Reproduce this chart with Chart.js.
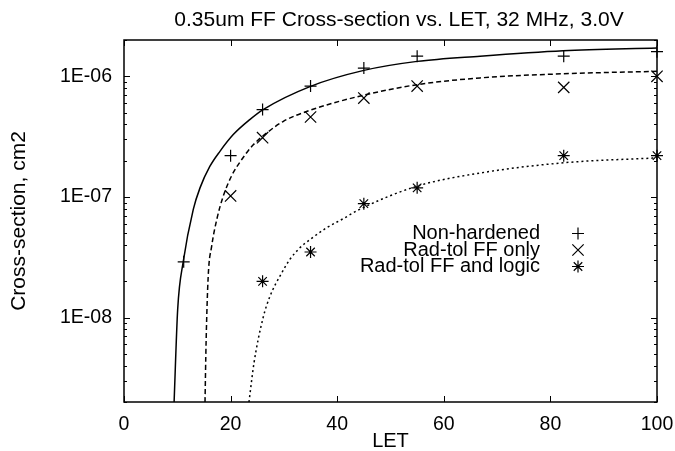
<!DOCTYPE html>
<html>
<head>
<meta charset="utf-8">
<script src="https://cdn.jsdelivr.net/npm/chart.js@4.4.1/dist/chart.umd.min.js"></script>
<style>
  html, body { margin: 0; padding: 0; background: #fff; }
  #wrap { width: 675px; height: 451px; }
</style>
</head>
<body>
<div id="wrap"><canvas id="xsChart"></canvas></div>
<script>
// --- measured points ---
const letNonHardened = [11.2, 20, 26, 35, 45, 55, 82.5, 100];
const xsNonHardened = [2.9e-8, 2.2e-7, 5.3e-7, 8.3e-7, 1.17e-6, 1.47e-6, 1.47e-6, 1.6e-6];

const letFFOnly = [20, 26, 35, 45, 55, 82.5, 100];
const xsFFOnly = [1.02e-7, 3.1e-7, 4.6e-7, 6.6e-7, 8.3e-7, 8.1e-7, 1.0e-6];

const letFFLogic = [26, 35, 45, 55, 82.5, 100];
const xsFFLogic = [2.0e-8, 3.5e-8, 8.8e-8, 1.19e-7, 2.2e-7, 2.2e-7];

// --- fitted curves ---
const fitNonHardenedX = [9.4, 10.07, 11.13, 13.0, 14.26, 16.1, 18.0, 20.5, 23.6, 26.1, 35, 45, 55, 66.8, 82.4, 100];
const fitNonHardenedY = [2e-9, 1.17e-8, 2.94e-8, 7.89e-8, 1.19e-7, 1.79e-7, 2.39e-7, 3.29e-7, 4.38e-7, 5.3e-7, 8.26e-7, 1.12e-6, 1.33e-6, 1.47e-6, 1.63e-6, 1.72e-6];

const fitFFOnlyX = [15.2, 15.4, 15.8, 16.45, 17.4, 18.6, 20.2, 21.8, 24.3, 26.8, 29.9, 35, 45, 55, 66.8, 82.4, 100];
const fitFFOnlyY = [2e-9, 6.2e-9, 2.21e-8, 3.91e-8, 6.49e-8, 1.01e-7, 1.5e-7, 1.96e-7, 2.72e-7, 3.4e-7, 4.24e-7, 5.25e-7, 6.98e-7, 8.53e-7, 9.7e-7, 1.05e-6, 1.1e-6];

const fitFFLogicX = [23.45, 24.4, 26.1, 27.4, 29.6, 31.1, 33.0, 34.9, 38.0, 41.1, 44.3, 55, 66.8, 82.4, 100];
const fitFFLogicY = [2e-9, 4.24e-9, 1e-8, 1.51e-8, 2.35e-8, 3.03e-8, 3.79e-8, 4.44e-8, 5.55e-8, 6.6e-8, 7.94e-8, 1.23e-7, 1.58e-7, 1.92e-7, 2.11e-7];

// --- axes ---
const xTicks = [0, 20, 40, 60, 80, 100];
const yTicks = [1e-8, 1e-7, 1e-6];
const yMin = 2e-9, yMax = 2e-6;

const chartTitle = '0.35um FF Cross-section vs. LET, 32 MHz, 3.0V';

const FONT = "'Liberation Sans', Arial, sans-serif";

const pts = (xs, ys) => xs.map((x, i) => ({ x: x, y: ys[i] }));

const sciLabel = (v) => {
    const e = Math.round(Math.log10(v));
    const a = Math.abs(e);
    return '1E' + (e < 0 ? '-' : '+') + (a < 10 ? '0' : '') + a;
};

// gnuplot-like frame with inward ticks on all sides, plus the title
const framePlugin = {
    id: 'frame',
    afterDatasetsDraw(chart) {
        const { ctx, chartArea: a, scales } = chart;
        const xs = scales.x, ys = scales.y;
        ctx.save();
        ctx.strokeStyle = '#000';
        ctx.lineWidth = 1;
        ctx.beginPath();
        xTicks.forEach(v => {
            const px = Math.round(xs.getPixelForValue(v)) + 0.5;
            ctx.moveTo(px, a.bottom); ctx.lineTo(px, a.bottom - 6);
            ctx.moveTo(px, a.top); ctx.lineTo(px, a.top + 6);
        });
        const lo = Math.floor(Math.log10(yMin)), hi = Math.ceil(Math.log10(yMax));
        for (let k = lo; k <= hi; k++) {
            for (let m = 1; m < 10; m++) {
                const v = m * Math.pow(10, k);
                if (v < yMin || v > yMax) continue;
                const len = m === 1 ? 6 : 3;
                const py = Math.round(ys.getPixelForValue(v)) + 0.5;
                ctx.moveTo(a.left, py); ctx.lineTo(a.left + len, py);
                ctx.moveTo(a.right, py); ctx.lineTo(a.right - len, py);
            }
        }
        ctx.stroke();
        ctx.lineWidth = 1.5;
        ctx.strokeRect(a.left, a.top, a.right - a.left, a.bottom - a.top);

        ctx.fillStyle = '#000';
        ctx.font = '21px ' + FONT;
        ctx.textAlign = 'center';
        ctx.textBaseline = 'middle';
        ctx.fillText(chartTitle, 399, 20);
        ctx.restore();
    }
};

// key in the plot, text right-aligned with the symbol to the right
const keyPlugin = {
    id: 'key',
    afterDraw(chart) {
        const { ctx } = chart;
        const textRight = 540, symX = 578;
        const rows = [233.5, 250, 266.5];
        ctx.save();
        ctx.font = '20px ' + FONT;
        ctx.fillStyle = '#000';
        ctx.textAlign = 'right';
        ctx.textBaseline = 'middle';
        chart.data.datasets.filter(d => d.inKey).forEach((d, i) => {
            ctx.fillText(d.label, textRight, rows[i]);
            ctx.strokeStyle = '#000';
            ctx.lineWidth = d.borderWidth;
            Chart.helpers.drawPoint(ctx, { pointStyle: d.pointStyle, radius: d.pointRadius, borderWidth: d.borderWidth, rotation: 0 }, symX, rows[i]);
        });
        ctx.restore();
    }
};

const fitLine = (data, dash) => ({
    type: 'line',
    data: data,
    borderColor: '#000',
    borderWidth: 1.5,
    borderDash: dash,
    pointRadius: 0,
    fill: false,
    cubicInterpolationMode: 'monotone',
    clip: 0
});

const marks = (label, data, style, r) => ({
    type: 'scatter',
    label: label,
    inKey: true,
    data: data,
    pointStyle: style,
    pointRadius: r,
    borderColor: '#000',
    backgroundColor: '#000',
    borderWidth: 1.2,
    clip: false
});

new Chart(document.getElementById('xsChart'), {
    data: {
        datasets: [
            marks('Non-hardened', pts(letNonHardened, xsNonHardened), 'cross', 6),
            marks('Rad-tol FF only', pts(letFFOnly, xsFFOnly), 'crossRot', 8),
            marks('Rad-tol FF and logic', pts(letFFLogic, xsFFLogic), 'star', 6),
            fitLine(pts(fitNonHardenedX, fitNonHardenedY), []),
            fitLine(pts(fitFFOnlyX, fitFFOnlyY), [5, 3]),
            fitLine(pts(fitFFLogicX, fitFFLogicY), [2, 3])
        ]
    },
    options: {
        responsive: true,
        maintainAspectRatio: false,
        animation: false,
        layout: { padding: { left: 0, right: 18, top: 40, bottom: 0 } },
        plugins: {
            legend: { display: false },
            tooltip: { enabled: false },
            title: { display: false }
        },
        scales: {
            x: {
                type: 'linear',
                min: 0,
                max: 100,
                afterBuildTicks: s => { s.ticks = xTicks.map(v => ({ value: v })); },
                afterFit: s => { s.height = 49; s.paddingLeft = 0; s.paddingRight = 0; },
                grid: { display: false, drawTicks: false },
                border: { display: false },
                ticks: { color: '#000', padding: 11, maxRotation: 0, font: { family: FONT, size: 19.5 } },
                title: {
                    display: true,
                    text: 'LET',
                    color: '#000',
                    font: { family: FONT, size: 20, lineHeight: 0.95 },
                    padding: { top: 0, bottom: 0 }
                }
            },
            y: {
                type: 'logarithmic',
                min: yMin,
                max: yMax,
                afterBuildTicks: s => { s.ticks = yTicks.map(v => ({ value: v })); },
                afterFit: s => { s.width = 124; s.paddingTop = 0; s.paddingBottom = 0; },
                grid: { display: false, drawTicks: false },
                border: { display: false },
                ticks: { color: '#000', padding: 12, callback: v => sciLabel(v), font: { family: FONT, size: 19.5 } },
                title: {
                    display: true,
                    text: 'Cross-section, cm2',
                    color: '#000',
                    font: { family: FONT, size: 21, lineHeight: 1.1 },
                    padding: { top: 8, bottom: 0 }
                }
            }
        }
    },
    plugins: [framePlugin, keyPlugin]
});
</script>
</body>
</html>
